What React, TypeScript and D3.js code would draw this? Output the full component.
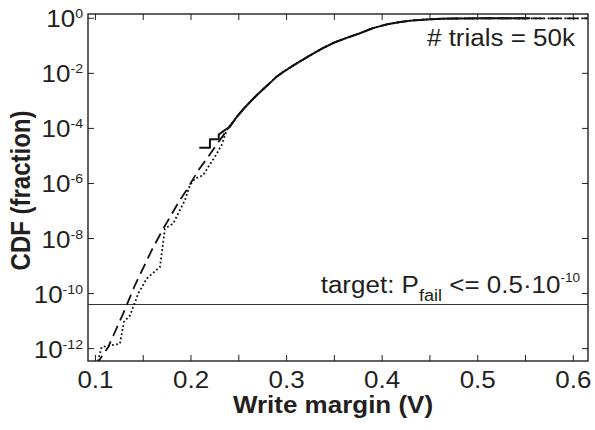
import React from "react";
import * as d3 from "d3";

// ---- data ----
const xTickValues = [0.1, 0.15, 0.2, 0.25, 0.3, 0.35, 0.4, 0.45, 0.5, 0.55, 0.6];
const xTickLabels = ["0.1", "", "0.2", "", "0.3", "", "0.4", "", "0.5", "", "0.6"];
const yTickExponents = [0, -2, -4, -6, -8, -10, -12];
const targetLevel = 4e-11;

// upper part where all three curves coincide
const upperCurve: [number, number][] = [
  [0.2478, 2.6e-4], [0.255, 5.1e-4], [0.262, 9.3e-4], [0.2687, 1.6e-3], [0.276, 2.75e-3],
  [0.283, 4.6e-3], [0.2896, 7.6e-3], [0.297, 1.15e-2], [0.305, 1.74e-2], [0.314, 2.7e-2],
  [0.322, 4.0e-2], [0.33, 5.75e-2], [0.3381, 8.3e-2], [0.35, 0.132], [0.3629, 0.195],
  [0.376, 0.28], [0.3904, 0.44], [0.404, 0.59], [0.4187, 0.73], [0.432, 0.84],
  [0.4466, 0.91], [0.46, 0.955], [0.474, 0.98], [0.488, 0.991], [0.505, 0.9966],
  [0.52, 0.999], [0.555, 1.0],
];

// Monte Carlo (50k trials) empirical CDF – solid (lower part)
const solidLower: [number, number][] = [
  [0.2086, 2e-5], [0.2198, 2e-5], [0.2198, 4e-5], [0.229, 4e-5], [0.229, 6e-5],
  [0.234, 8e-5], [0.2407, 1.15e-4],
];

// dashed estimate (lower part)
const dashedLower: [number, number][] = [
  [0.1005, 2.5e-13], [0.1134, 1.15e-12], [0.1291, 1.9e-11], [0.1413, 2e-10], [0.1588, 3.7e-9],
  [0.171, 2.3e-8], [0.1884, 2.5e-7], [0.1954, 5.8e-7], [0.2076, 3e-6], [0.218, 9.3e-6],
  [0.2303, 3.8e-5], [0.239, 1e-4],
];

// dotted estimate (lower part)
const dottedLower: [number, number][] = [
  [0.1015, 2.5e-13], [0.1065, 1.15e-12], [0.1256, 1.5e-12], [0.1298, 9.3e-12], [0.1361, 1.6e-11],
  [0.1448, 1e-10], [0.1536, 3.5e-10], [0.1675, 9.3e-10], [0.1727, 2.3e-8], [0.1814, 3.5e-8],
  [0.1937, 2.5e-7], [0.1989, 8.7e-7], [0.2041, 1.5e-6], [0.2128, 2e-6], [0.218, 4e-6],
  [0.225, 9.3e-6], [0.2321, 2.5e-5], [0.2373, 8.7e-5], [0.2408, 1.3e-4],
];

const tailEnd: [number, number][] = [[0.62, 1.0]];

const W = 595;
const H = 430;
const L = 88, R = 588, T = 14, B = 361;
const SX = 1.13;
const FONT = "'Liberation Sans', Arial, Helvetica, sans-serif";
const INK = "#231f20";

export default function App() {
  const x = d3.scaleLinear().domain([0.0922, 0.6154]).range([L, R]);
  const y = d3.scaleLog().domain([Math.pow(10, -12.45), Math.pow(10, 0.156)]).range([B, T]);
  const line = d3
    .line<[number, number]>()
    .x((d) => x(d[0]))
    .y((d) => y(d[1]));
  const tick = 6;

  const solidCurve = [...solidLower, ...upperCurve];
  const dashedCurve = [...dashedLower, ...upperCurve, ...tailEnd];
  const dottedCurve = [...dottedLower, ...upperCurve, ...tailEnd];

  return (
    <svg
      width={W}
      height={H}
      style={{ position: "absolute", left: 0, top: 0, background: "#fff" }}
      fontFamily={FONT}
    >
      <defs>
        <clipPath id="plotClip">
          <rect x={L} y={T} width={R - L} height={B - T} />
        </clipPath>
      </defs>
      <rect x={0} y={0} width={W} height={H} fill="#fff" />

      {/* curves */}
      <g clipPath="url(#plotClip)" fill="none" stroke="#111">
        <line x1={L} x2={R} y1={y(targetLevel)} y2={y(targetLevel)} stroke="#333" strokeWidth={1.1} />
        <path d={line(dottedCurve) || ""} strokeWidth={1.8} strokeDasharray="1.8,2.4" />
        <path d={line(dashedCurve) || ""} strokeWidth={1.8} strokeDasharray="11,6" />
        <path d={line(solidCurve) || ""} strokeWidth={2} strokeLinejoin="round" />
      </g>

      {/* frame */}
      <rect x={L} y={T} width={R - L} height={B - T} fill="none" stroke={INK} strokeWidth={1.4} />

      {/* x ticks */}
      {xTickValues.map((v, i) => (
        <g key={"xt" + i}>
          <line x1={x(v)} x2={x(v)} y1={B} y2={B - tick} stroke={INK} strokeWidth={1} />
          <line x1={x(v)} x2={x(v)} y1={T} y2={T + tick} stroke={INK} strokeWidth={1} />
          {xTickLabels[i] && (
            <text
              transform={`translate(${x(v)},388) scale(${SX},1)`}
              textAnchor="middle"
              fontSize={23}
              fill={INK}
            >
              {xTickLabels[i]}
            </text>
          )}
        </g>
      ))}

      {/* y ticks */}
      {yTickExponents.map((e) => {
        const yy = y(Math.pow(10, e));
        return (
          <g key={"yt" + e}>
            <line x1={L} x2={L + tick} y1={yy} y2={yy} stroke={INK} strokeWidth={1} />
            <line x1={R} x2={R - tick} y1={yy} y2={yy} stroke={INK} strokeWidth={1} />
            <text
              transform={`translate(83,${yy + 9}) scale(${SX},1)`}
              textAnchor="end"
              fontSize={23}
              fill={INK}
            >
              10
              <tspan dy={-9} fontSize={12.5}>
                {e === 0 ? "0" : String(e)}
              </tspan>
            </text>
          </g>
        );
      })}

      {/* annotations */}
      <text
        transform={`translate(575,46) scale(${SX},1)`}
        textAnchor="end"
        fontSize={23}
        fill={INK}
      >
        # trials = 50k
      </text>
      <text transform={`translate(320.7,293) scale(${SX},1)`} fontSize={23} fill={INK}>
        target: P
        <tspan dy={8} fontSize={16}>fail</tspan>
        <tspan dy={-8}> {"<= 0.5\u00b710"}</tspan>
        <tspan dy={-11} fontSize={12}>-10</tspan>
      </text>

      {/* axis labels */}
      <text
        transform={`translate(333,413) scale(${SX},1)`}
        textAnchor="middle"
        fontSize={23}
        fontWeight="bold"
        fill={INK}
      >
        Write margin (V)
      </text>
      <text
        transform={`translate(30,190.5) scale(${SX},1) rotate(-90)`}
        textAnchor="middle"
        fontSize={24}
        fontWeight="bold"
        fill={INK}
      >
        CDF (fraction)
      </text>
    </svg>
  );
}
